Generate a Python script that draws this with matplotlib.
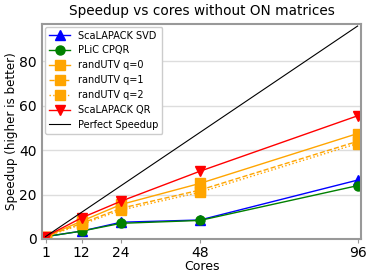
import numpy as np
import matplotlib
matplotlib.use("Agg")
import matplotlib.pyplot as plt

# datos
cores = [1, 12, 24, 48, 96]
svd = [1, 3.5, 7.5, 8.5, 26.5]
cpqr = [1, 3.5, 7.0, 8.3, 24.0]
utv_q0 = [1, 8.0, 15.5, 25.0, 47.5]
utv_q1 = [1, 7.0, 13.8, 22.0, 44.0]
utv_q2 = [1, 6.5, 13.0, 21.0, 43.0]
qr = [1, 9.5, 17.0, 30.5, 55.5]
perfect = [1, 96]

fig, ax = plt.subplots(figsize=(3.74, 2.8), dpi=100)
fig.subplots_adjust(left=0.113, right=0.965, top=0.915, bottom=0.147)

ax.plot(cores, svd, color='blue', marker='^', ms=6.5, lw=1, label='ScaLAPACK SVD')
ax.plot(cores, cpqr, color='green', marker='o', ms=6.5, lw=1, label='PLiC CPQR')
ax.plot(cores, utv_q0, color='orange', marker='s', ms=6.5, lw=1, ls='-', label='randUTV q=0')
ax.plot(cores, utv_q1, color='orange', marker='s', ms=6.5, lw=1, ls='--', label='randUTV q=1')
ax.plot(cores, utv_q2, color='orange', marker='s', ms=6.5, lw=1, ls=':', label='randUTV q=2')
ax.plot(cores, qr, color='red', marker='v', ms=6.5, lw=1, label='ScaLAPACK QR')
ax.plot(perfect, perfect, color='black', lw=0.8, label='Perfect Speedup')

ax.set_xlim(0, 97)
ax.set_ylim(0, 97)
ax.set_xticks(cores)
ax.set_yticks([0, 20, 40, 60, 80])
ax.yaxis.grid(True, color='#dddddd', lw=1)
ax.set_axisbelow(True)
for s in ax.spines.values():
    s.set_color('#999999')
    s.set_linewidth(1.5)
ax.tick_params(axis='y', length=0, labelsize=10, pad=4)
ax.tick_params(axis='x', length=3, color='#999999', labelsize=10, pad=2)

ax.set_title("Speedup vs cores without ON matrices", fontsize=9.8)
ax.set_xlabel("Cores", fontsize=9, labelpad=0)
ax.set_ylabel("Speedup (higher is better)", fontsize=8.6, labelpad=1)
ax.legend(loc='upper left', fontsize=7, framealpha=1, borderaxespad=0.3,
          handlelength=2.2, labelspacing=0.5, handletextpad=0.8)

fig.savefig("out.png", dpi=100)
